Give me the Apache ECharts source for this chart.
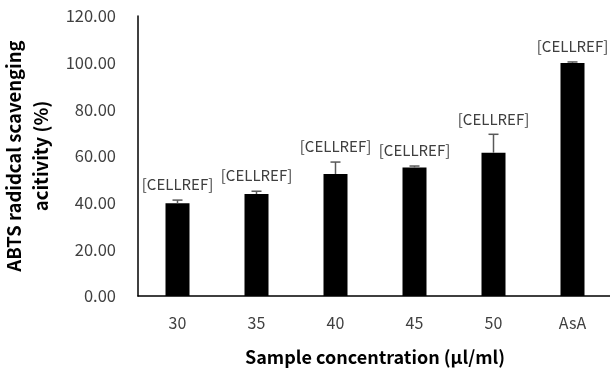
<!DOCTYPE html>
<html>
<head>
<meta charset="utf-8">
<script src="https://cdn.jsdelivr.net/npm/echarts@6/dist/echarts.min.js"></script>
<style>
  html, body { margin: 0; padding: 0; background: #fff; }
  #chart { width: 610px; height: 370px; }
</style>
</head>
<body>
<div id="chart"></div>
<script>
// categories and values
const categories = ['30', '35', '40', '45', '50', 'AsA'];
const activity = [39.7, 43.7, 52.3, 55.1, 61.4, 99.9];
const errorPlus = [1.4, 1.2, 5.1, 0.6, 7.9, 0.4];
const cellLabels = ['[CELLREF]', '[CELLREF]', '[CELLREF]', '[CELLREF]', '[CELLREF]', '[CELLREF]'];
const yTicks = { min: 0, max: 120, interval: 20 };

const font = '"Noto Sans CJK KR", "Open Sans", sans-serif';

const errorData = activity.map((v, i) => [i, v, v + errorPlus[i]]);

const chart = echarts.init(document.getElementById('chart'));

const option = {
  animation: false,
  grid: {
    left: 138,
    right: -2,
    top: 16,
    bottom: 74,
    outerBoundsMode: 'none'
  },
  xAxis: {
    type: 'category',
    data: categories,
    name: 'Sample concentration (µl/ml)',
    nameLocation: 'middle',
    nameGap: 52,
    nameTextStyle: {
      fontFamily: font,
      fontSize: 18,
      fontWeight: 'bold',
      color: '#000'
    },
    axisLine: { lineStyle: { color: '#000', width: 1.5 } },
    axisTick: { show: false },
    axisLabel: {
      margin: 19,
      fontFamily: font,
      fontSize: 16,
      color: '#404040'
    }
  },
  yAxis: {
    type: 'value',
    min: yTicks.min,
    max: yTicks.max,
    interval: yTicks.interval,
    name: 'ABTS radidcal scavenging\nacitivity (%)',
    nameLocation: 'middle',
    nameGap: 81,
    nameRotate: 90,
    nameTextStyle: {
      fontFamily: font,
      fontSize: 18.5,
      fontWeight: 'bold',
      color: '#000',
      lineHeight: 27,
      align: 'center'
    },
    axisLine: { show: true, lineStyle: { color: '#000', width: 1.5 } },
    axisTick: { show: false },
    splitLine: { show: false },
    axisLabel: {
      margin: 22,
      fontFamily: font,
      fontSize: 16.5,
      color: '#404040',
      formatter: v => v.toFixed(2)
    }
  },
  series: [{
    type: 'bar',
    data: activity,
    barWidth: 24,
    itemStyle: { color: '#000' }
  }, {
    type: 'custom',
    data: errorData,
    z: 10,
    renderItem: function (params, api) {
      const idx = api.value(0);
      const base = api.coord([idx, api.value(1)]);
      const top = api.coord([idx, api.value(2)]);
      const half = 5;
      return {
        type: 'group',
        children: [{
          type: 'line',
          shape: { x1: top[0], y1: base[1], x2: top[0], y2: top[1] },
          style: { stroke: '#595959', lineWidth: 1.5 }
        }, {
          type: 'line',
          shape: { x1: top[0] - half, y1: top[1], x2: top[0] + half, y2: top[1] },
          style: { stroke: '#595959', lineWidth: 1.5 }
        }, {
          type: 'text',
          x: top[0],
          y: top[1] - 8,
          style: {
            text: cellLabels[params.dataIndex],
            fontFamily: font,
            fontSize: 15,
            fill: '#404040',
            align: 'center',
            verticalAlign: 'bottom'
          }
        }]
      };
    }
  }]
};

chart.setOption(option);
</script>
</body>
</html>
